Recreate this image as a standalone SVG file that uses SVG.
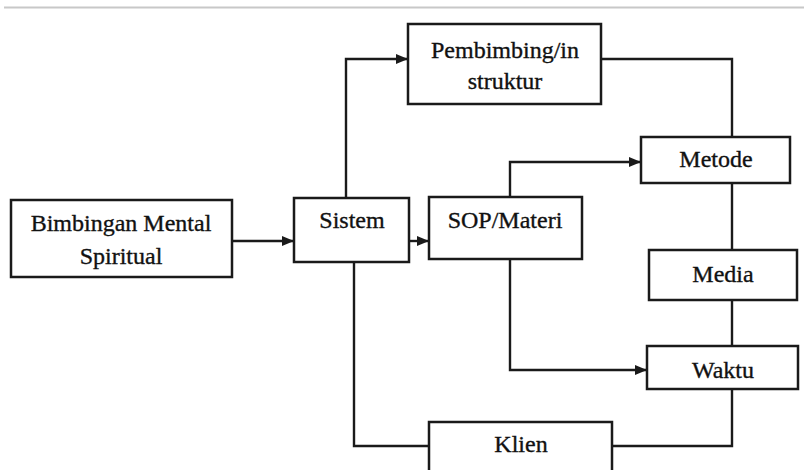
<svg xmlns="http://www.w3.org/2000/svg" width="804" height="470" viewBox="0 0 804 470">
<style>
.box{fill:#fff;stroke:#1a1a1a;stroke-width:2.5}
.ln{fill:none;stroke:#1a1a1a;stroke-width:2.4}
.t{font-family:"Liberation Serif","Times New Roman",serif;font-size:24px;fill:#111;stroke:#111;stroke-width:0.35;text-anchor:middle}
</style>
<defs>
<marker id="ah" markerWidth="12" markerHeight="10" refX="12" refY="5" orient="auto" markerUnits="userSpaceOnUse">
<path d="M0,0 L12,5 L0,10 Z" fill="#1a1a1a"/>
</marker>
</defs>
<rect width="804" height="470" fill="#fff"/>
<line x1="4" y1="7.5" x2="804" y2="7.5" stroke="#c8c8c8" stroke-width="2"/>
<g id="connectors">
<path class="ln" d="M232,241 H294" marker-end="url(#ah)"/>
<path class="ln" d="M409,241 H429" marker-end="url(#ah)"/>
<path class="ln" d="M346,198 V59 H408" marker-end="url(#ah)"/>
<path class="ln" d="M601,59 H732 V137"/>
<path class="ln" d="M510,197 V162 H641" marker-end="url(#ah)"/>
<path class="ln" d="M732,183 V250"/>
<path class="ln" d="M732,300 V346"/>
<path class="ln" d="M510,259 V370 H647" marker-end="url(#ah)"/>
<path class="ln" d="M732,389 V446 H612"/>
<path class="ln" d="M354,262 V446 H429"/>
</g>
<g id="bimbingan">
<rect class="box" x="11" y="200" width="221" height="77"/>
<text class="t" x="121" y="231">Bimbingan Mental</text>
<text class="t" x="121" y="264">Spiritual</text>
</g>
<g id="sistem">
<rect class="box" x="294" y="198" width="115" height="64"/>
<text class="t" x="352" y="228">Sistem</text>
</g>
<g id="pembimbing">
<rect class="box" x="408" y="24" width="193" height="80"/>
<text class="t" x="505" y="58">Pembimbing/in</text>
<text class="t" x="505" y="89">struktur</text>
</g>
<g id="sop">
<rect class="box" x="429" y="197" width="153" height="62"/>
<text class="t" x="505" y="228">SOP/Materi</text>
</g>
<g id="metode">
<rect class="box" x="641" y="137" width="149" height="46"/>
<text class="t" x="716" y="167">Metode</text>
</g>
<g id="media">
<rect class="box" x="649" y="250" width="148" height="50"/>
<text class="t" x="723" y="282">Media</text>
</g>
<g id="waktu">
<rect class="box" x="647" y="346" width="151" height="43"/>
<text class="t" x="723" y="378">Waktu</text>
</g>
<g id="klien">
<rect class="box" x="429" y="422" width="183" height="60"/>
<text class="t" x="521" y="452">Klien</text>
</g>
</svg>
